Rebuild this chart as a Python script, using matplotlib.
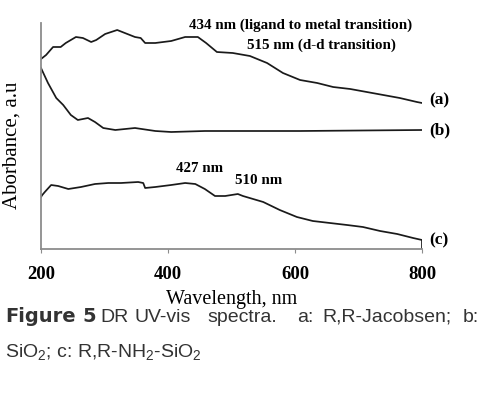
import matplotlib.pyplot as plt

# wavelength (nm) and absorbance (a.u., arbitrary scale)
wl_a = [200, 202, 208, 219, 231, 239, 255, 266, 279, 287, 301, 320, 332, 348, 357,
        364, 380, 405, 427, 447, 460, 477, 502, 529, 556, 581, 608, 635, 660, 687,
        713, 739, 765, 792, 800]
ab_a = [190, 191, 194, 202, 202, 206, 212, 211, 207, 209, 215, 219, 216, 212, 211,
        206, 206, 208, 212, 212, 206, 197, 196, 193, 186, 176, 169, 166, 162, 160,
        157, 154, 151, 147, 146]

wl_b = [200, 211, 224, 235, 247, 258, 274, 285, 298, 317, 348, 380, 405, 458, 608, 800]
ab_b = [181, 166, 151, 144, 134, 129, 131, 127, 121, 119, 121, 118, 117, 118, 118, 119]

wl_c = [200, 202, 206, 216, 227, 243, 263, 285, 306, 326, 353, 361, 364, 380, 405,
        427, 443, 458, 474, 490, 510, 518, 550, 576, 603, 628, 655, 682, 707, 734,
        761, 786, 800, 800]
ab_c = [52, 54, 57, 64, 63, 60, 62, 65, 66, 66, 67, 66, 61, 62, 64, 66, 65, 60, 53,
        53, 55, 53, 47, 39, 32, 28, 26, 24, 22, 18, 15, 11, 9, 0]

labels = ["(a)", "(b)", "(c)"]
label_y = [149, 119, 9]

plt.rcParams['font.family'] = ['Liberation Serif', 'DejaVu Serif']
plt.rcParams['mathtext.fontset'] = 'custom'
plt.rcParams['mathtext.rm'] = 'Liberation Sans'
plt.rcParams['mathtext.it'] = 'Liberation Sans'

fig = plt.figure(figsize=(4.91, 3.96), dpi=100)
ax = fig.add_axes([41/491, 1-249/396, 381/491, 226/396])

for x, y in [(wl_a, ab_a), (wl_b, ab_b), (wl_c, ab_c)]:
    ax.plot(x, y, color='#1a1a1a', lw=1.25)

ax.set_xlim(200, 800)
ax.set_ylim(0, 226)
for s in ['top', 'right']:
    ax.spines[s].set_visible(False)
for s in ['left', 'bottom']:
    ax.spines[s].set_color('#8c8c8c')
    ax.spines[s].set_linewidth(1.3)
ax.set_yticks([])
ax.set_xticks([200, 400, 600, 800])
ax.tick_params(axis='x', direction='out', length=3, color='#8c8c8c', pad=9)
for t in ax.get_xticklabels():
    t.set_fontweight('bold')
    t.set_fontsize(13.5)
ax.set_xlabel('Wavelength, nm', fontsize=14.5, labelpad=5)
ax.set_ylabel('Aborbance, a.u', fontsize=15)
ax.yaxis.set_label_coords(-19/381, (249-145)/226)

for lab, y in zip(labels, label_y):
    ax.text(811, y, lab, fontsize=12.5, fontweight='bold', va='center', ha='left')

ann = dict(fontsize=10.8, fontweight='bold', ha='center', va='center')
ax.text(608, 224, '434 nm (ligand to metal transition)', **ann)
ax.text(641, 204, '515 nm (d-d transition)', **ann)
ax.text(449, 80, '427 nm', **ann)
ax.text(543, 69, '510 nm', **ann)

# caption
cap = dict(family=['Liberation Sans', 'DejaVu Sans'], fontsize=14, color='#333333',
           va='baseline', ha='left')
bold = dict(cap, family=['DejaVu Sans'], fontweight='bold')
fig.text(5/491, 1-322/396, 'Figure', **bold)
fig.text(82/491, 1-322/396, '5', **bold)
words = [('DR', 100), ('UV-vis', 135), ('spectra.', 207), ('a:', 297),
         ('R,R-Jacobsen;', 322), ('b:', 463)]
for w, x in words:
    fig.text(x/491, 1-322/396, w, **cap)
fig.text(5/491, 1-357/396, r'SiO$_2$; c: R,R-NH$_2$-SiO$_2$', **cap)

fig.savefig('out.png', dpi=100)
